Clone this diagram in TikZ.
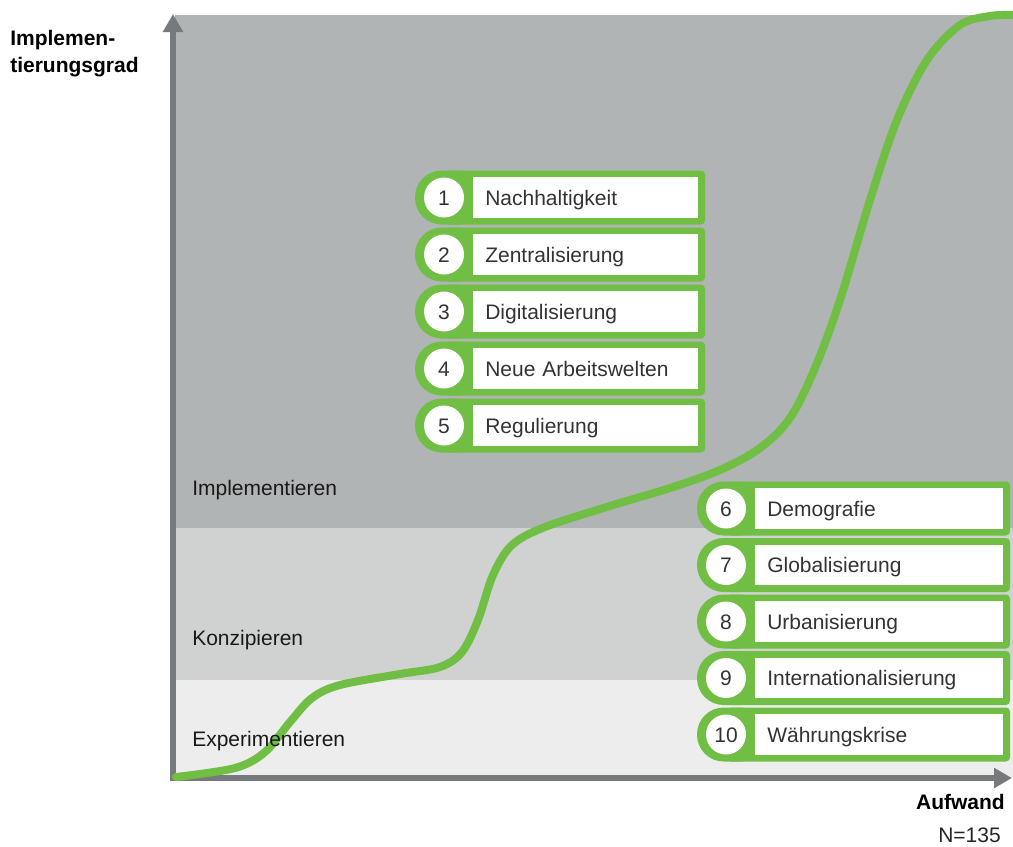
\documentclass[tikz,border=0pt]{standalone}
\usepackage{fontspec}
\setmainfont{Liberation Sans}
\usetikzlibrary{arrows.meta}
\definecolor{bandtop}{HTML}{B1B4B4}
\definecolor{bandmid}{HTML}{D0D2D1}
\definecolor{bandlow}{HTML}{EDEDED}
\definecolor{axisgray}{HTML}{777A7C}
\definecolor{tgreen}{HTML}{70BF44}
\definecolor{boxtext}{HTML}{333333}
\newcommand\trendrow[6]{% name, x0, yc, text width (pt), number, text
  \fill[tgreen,rounded corners=20pt] (#2,#3-27) rectangle (#2+70,#3+27);
  \fill[tgreen,rounded corners=3pt] (#2+30,#3-27) rectangle (#2+58+#4/0.75+24+7,#3+27);
  \node[numcirc] (#1n) at (#2+29,#3) {#5};
  \node[tbox,text width=#4 pt,anchor=west] (#1t) at (#2+58,#3) {#6};
}
\begin{document}
\begin{tikzpicture}[x=0.75pt,y=-0.75pt,
  txt/.style={font=\fontsize{15.75}{19}\selectfont},
  numcirc/.style={circle,fill=white,minimum size=30pt,inner sep=0pt,txt,text=boxtext,text height=11.3pt,text depth=0pt},
  tbox/.style={rectangle,fill=white,minimum height=30.5pt,inner ysep=0pt,inner xsep=9pt,txt,text=boxtext,align=left,text height=13pt,text depth=1.7pt},
  band/.style={txt,text=black!90,anchor=west,inner sep=0pt},
  axis/.style={axisgray,line width=4.5pt,-{Triangle[length=13.5pt,width=14.5pt]}},
  curve/.style={tgreen,line width=6pt,line cap=round}]
\useasboundingbox (0,0) rectangle (1013,846);
% bands
\fill[bandtop] (175,15) rectangle (1013,528);
\fill[bandmid] (175,528) rectangle (1013,680);
\fill[bandlow] (175,680) rectangle (1013,778);
% axes
\draw[axis] (173,781) -- (173,14);
\draw[axis] (170,778) -- (1012,778);
% curve
\draw[curve] plot[smooth,tension=0.55] coordinates {
 (176,777) (235,768) (265,752) (290,722) (312,698) (340,685) (400,674)
 (440,667) (462,652) (478,620) (493,575) (512,545) (545,527) (610,506)
 (670,488) (720,470) (760,448) (790,418) (815,368) (840,300) (870,200)
 (897,120) (927,60) (960,25) (990,16) (1013,15)};
% band labels
\node[band] (impl) at (192,490) {Implementieren};
\node[band] (konz) at (192,640) {Konzipieren};
\node[band] (expe) at (192,741) {Experimentieren};
% axis labels
\node[txt,font=\fontsize{15.75}{20.25}\selectfont\bfseries,align=left,anchor=north west,inner sep=0pt] (ylab) at (10,30) {Implemen-\\tierungsgrad};
\node[txt,font=\fontsize{15.75}{19}\selectfont\bfseries,anchor=east,inner sep=0pt] (xlab) at (1005,802) {Aufwand};
\node[txt,anchor=east,inner sep=0pt,text=black!85] (nlab) at (1001,835) {N=135};
% items
\trendrow{a}{415}{197.5}{150.75}{1}{Nachhaltigkeit}
\trendrow{b}{415}{254.5}{150.75}{2}{Zentralisierung}
\trendrow{c}{415}{311.5}{150.75}{3}{Digitalisierung}
\trendrow{d}{415}{368.5}{150.75}{4}{Neue Arbeitswelten}
\trendrow{e}{415}{425.5}{150.75}{5}{Regulierung}
\trendrow{f}{697}{508.5}{168}{6}{Demografie}
\trendrow{g}{697}{565}{168}{7}{Globalisierung}
\trendrow{h}{697}{621.5}{168}{8}{Urbanisierung}
\trendrow{i}{697}{678}{168}{9}{Internationalisierung}
\trendrow{j}{697}{734.5}{168}{10}{Währungskrise}
\end{tikzpicture}
\end{document}
